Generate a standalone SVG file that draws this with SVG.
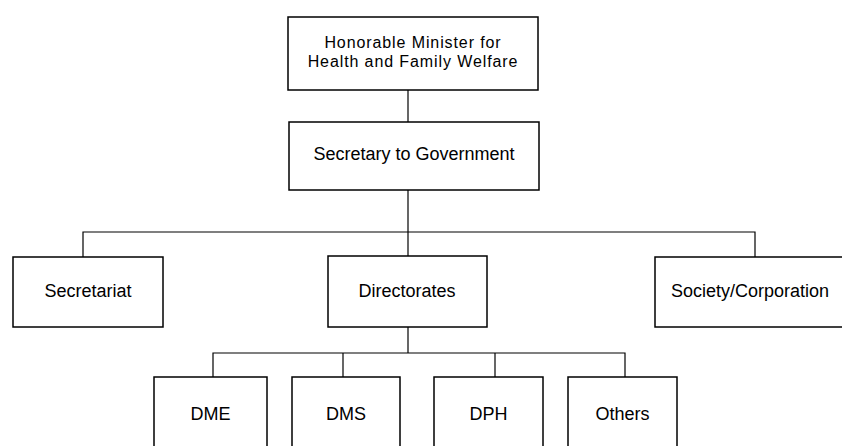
<svg xmlns="http://www.w3.org/2000/svg" width="842" height="446" viewBox="0 0 842 446">
<style>
.box{fill:#fff;stroke:#000;stroke-width:1.5}
.lbl{font-family:"Liberation Sans",Arial,sans-serif;font-size:18px;fill:#000;text-anchor:middle}
.two{font-size:16px;letter-spacing:0.9px}
.ln{fill:none;stroke:#000;stroke-width:1.2}
</style>
<rect width="842" height="446" fill="#fff"/>
<g id="connectors">
<path class="ln" d="M408,90V122"/>
<path class="ln" d="M408,190V256"/>
<path class="ln" d="M83,257V232H755V257"/>
<path class="ln" d="M408,327V353"/>
<path class="ln" d="M213,377V353H625V377"/>
<path class="ln" d="M343,353V377"/>
<path class="ln" d="M495,353V377"/>
</g>
<g id="minister"><rect class="box" x="288" y="17" width="250" height="73"/><text class="lbl two" x="413" y="48">Honorable Minister for</text><text class="lbl two" x="413" y="66.5">Health and Family Welfare</text></g>
<g id="secretary"><rect class="box" x="289" y="122" width="250" height="68"/><text class="lbl" x="414" y="160">Secretary to Government</text></g>
<g id="secretariat"><rect class="box" x="13" y="257" width="150" height="70"/><text class="lbl" x="88" y="297">Secretariat</text></g>
<g id="directorates"><rect class="box" x="328" y="256" width="159" height="71"/><text class="lbl" x="407" y="297">Directorates</text></g>
<g id="society"><rect class="box" x="655" y="257" width="200" height="70"/><text class="lbl" x="750" y="297">Society/Corporation</text></g>
<g id="dme"><rect class="box" x="154" y="377" width="113" height="80"/><text class="lbl" x="210.5" y="420">DME</text></g>
<g id="dms"><rect class="box" x="292" y="377" width="108" height="80"/><text class="lbl" x="346" y="420">DMS</text></g>
<g id="dph"><rect class="box" x="434" y="377" width="109" height="80"/><text class="lbl" x="488.5" y="420">DPH</text></g>
<g id="others"><rect class="box" x="568" y="377" width="109" height="80"/><text class="lbl" x="622.5" y="420">Others</text></g>
</svg>
